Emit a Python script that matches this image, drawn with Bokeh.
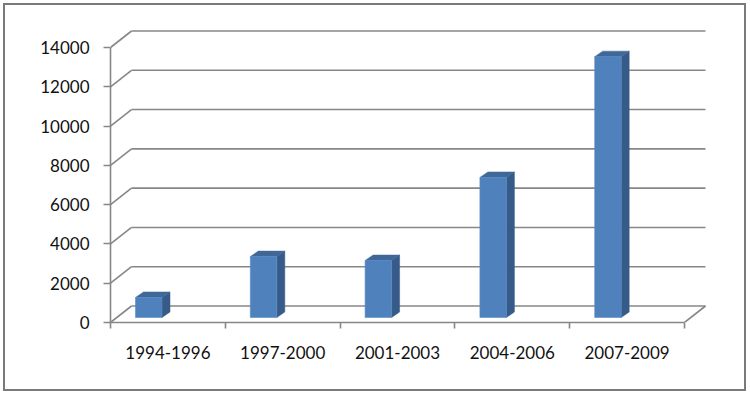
from bokeh.plotting import figure
from bokeh.models import Range1d, FixedTicker
from bokeh.embed import file_html
from bokeh.resources import INLINE

# ---- data ----
categories = ["1994-1996", "1997-2000", "2001-2003", "2004-2006", "2007-2009"]
values = [1020, 3100, 2900, 7130, 13280]
y_ticks = [0, 2000, 4000, 6000, 8000, 10000, 12000, 14000]
y_tick_labels = ["0", "2000", "4000", "6000", "8000", "10000", "12000", "14000"]

# ---- layout / style constants ----
OFF = 8                  # canvas offset on the page (css margin)
W, H = 733, 378
ML, MR, MT, MB = 110 - OFF, 26, 22 - OFF, 72 - 8
PX_X = 114.8            # pixels per category
PX_Y = 275.0 / 14000    # pixels per value unit
FW, FH = W - ML - MR, H - MT - MB

DEPTH_DX = 21 / PX_X
DEPTH_DY = 16.5 / PX_Y
BAR_OFF_X = 25 / PX_X
BAR_W = 26.5 / PX_X
BAR_BASE = 5 / PX_Y
SIDE_DX = 8 / PX_X
SIDE_DY = 5.5 / PX_Y

GRID_COLOR = "#878787"
FRONT = "#4f81bd"
SIDE = "#365b88"
TOP = "#3f6898"
FONT = "Lato"

n = len(categories)
p = figure(width=W, height=H, output_backend="svg", toolbar_location=None,
           x_range=Range1d(0, FW / PX_X), y_range=Range1d(0, FH / PX_Y),
           min_border_left=ML, min_border_right=MR, min_border_top=MT,
           min_border_bottom=MB)
p.outline_line_color = None
p.grid.visible = False
p.background_fill_color = "white"
p.border_fill_color = "white"
p.styles = {"margin-left": f"{OFF}px", "margin-top": f"{OFF}px",
            "outline": "2px solid #7a7a7a", "outline-offset": "3px"}

# back wall gridlines and side diagonals
nt = len(y_ticks)
p.segment(x0=[0] * nt, y0=y_ticks, x1=[DEPTH_DX] * nt,
          y1=[t + DEPTH_DY for t in y_ticks], line_color=GRID_COLOR, line_width=1.6)
p.segment(x0=[DEPTH_DX] * nt, y0=[t + DEPTH_DY for t in y_ticks],
          x1=[n + DEPTH_DX] * nt, y1=[t + DEPTH_DY for t in y_ticks],
          line_color=GRID_COLOR, line_width=1.6)
# floor right edge
p.segment(x0=[n], y0=[0], x1=[n + DEPTH_DX], y1=[DEPTH_DY],
          line_color=GRID_COLOR, line_width=1.6)

# bars
lefts = [i + BAR_OFF_X for i in range(n)]
rights = [l + BAR_W for l in lefts]
tops = [v + BAR_BASE for v in values]
side_xs = [[r, r + SIDE_DX, r + SIDE_DX, r] for r in rights]
side_ys = [[BAR_BASE, BAR_BASE + SIDE_DY, t + SIDE_DY, t] for t in tops]
top_xs = [[l, l + SIDE_DX, r + SIDE_DX, r] for l, r in zip(lefts, rights)]
top_ys = [[t, t + SIDE_DY, t + SIDE_DY, t] for t in tops]
p.patches(xs=side_xs, ys=side_ys, fill_color=SIDE, line_color=SIDE, line_width=0.5)
p.patches(xs=top_xs, ys=top_ys, fill_color=TOP, line_color=TOP, line_width=0.5)
p.quad(left=lefts, right=rights, bottom=[BAR_BASE] * n, top=tops,
       fill_color=FRONT, line_color="#5a8cc8", line_width=0.6)

# axes
xa = p.xaxis[0]
xa.ticker = FixedTicker(ticks=[i + 0.5 for i in range(n)],
                        minor_ticks=list(range(n + 1)))
xa.major_label_overrides = {i + 0.5: c for i, c in enumerate(categories)}
xa.bounds = (0, n)
xa.major_tick_out = 0
xa.major_tick_in = 0
xa.minor_tick_out = 6
xa.minor_tick_in = 0
xa.minor_tick_line_color = GRID_COLOR
xa.minor_tick_line_width = 1.6
xa.axis_line_color = GRID_COLOR
xa.axis_line_width = 1.6
xa.major_label_standoff = 17
xa.major_label_text_font = FONT
xa.major_label_text_font_size = "17px"
xa.major_label_text_color = "#111111"

ya = p.yaxis[0]
ya.ticker = FixedTicker(ticks=y_ticks, minor_ticks=[])
ya.major_label_overrides = {t: s for t, s in zip(y_ticks, y_tick_labels)}
ya.bounds = (0, 14000)
ya.major_tick_out = 7
ya.major_tick_in = 0
ya.major_tick_line_color = GRID_COLOR
ya.major_tick_line_width = 1.6
ya.axis_line_color = GRID_COLOR
ya.axis_line_width = 1.6
ya.major_label_standoff = 14
ya.major_label_text_font = FONT
ya.major_label_text_font_size = "17px"
ya.major_label_text_color = "#111111"

open("out.html", "w").write(file_html(p, INLINE))
